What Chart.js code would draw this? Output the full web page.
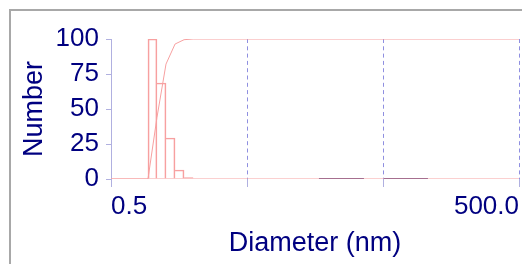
<!DOCTYPE html>
<html><head><meta charset="utf-8">
<script src="https://cdn.jsdelivr.net/npm/chart.js@4/dist/chart.umd.min.js"></script>
<style>
html,body{margin:0;padding:0;background:#fff;}
#wrap{position:relative;width:522px;height:264px;overflow:hidden;}
#frame{position:absolute;left:9px;top:9px;width:600px;height:400px;border-left:2px solid #a8a8a8;border-top:2px solid #a8a8a8;}
canvas{position:absolute;left:0;top:0;}
</style></head><body>
<div id="wrap"><div id="frame"></div><canvas id="c" width="522" height="264"></canvas></div>
<script>
// Histogram bins (diameter, nm) and their relative number (%)
const binCenters = [1.009, 1.176, 1.370, 1.596, 1.859];
const numberPct  = [100, 68.6, 29.3, 6.4, 1.0];
// Cumulative curve
const cumDiameters = [0.5, 0.935, 1.089, 1.269, 1.479, 1.723, 2.007, 500];
const cumPct       = [0, 0, 44, 82.1, 96.4, 99.5, 100, 100];
// Zero baseline
const baseDiameters = [0.5, 500];
const baseValues    = [0, 0];
// small traces on baseline
const traceDiameters = [16.9, 36.2, null, 50.8, 107];
const traceValues    = [0, 0, null, 0, 0];
// Axis ticks
const xTicks = [0.5, 5, 50, 500];
const xTickLabels = ['0.5', '', '', '500.0'];
const yTicks = [0, 25, 50, 75, 100];
const yTickLabels = ['0', '25', '50', '75', '100'];

const RED = '#f7a0a0';
const NAVY = '#000080';
const GRID = '#8f8fe0';
const AXIS = '#b0b0e0';
const FONT = "'Liberation Sans', Arial, sans-serif";

const pts = (xs, ys) => xs.map((x, i) => (x === null ? {x: NaN, y: null} : {x, y: ys[i]}));

new Chart(document.getElementById('c'), {
  data: {
    datasets: [
      {type: 'line', data: pts(traceDiameters, traceValues), borderColor: '#8a4f7a', borderWidth: 1.6,
       pointRadius: 0, spanGaps: false, order: 0},
      {type: 'line', data: pts(cumDiameters, cumPct), borderColor: RED, borderWidth: 1,
       pointRadius: 0, tension: 0, order: 1},
      {type: 'bar', data: binCenters.map((x, i) => ({x, y: numberPct[i]})),
       backgroundColor: 'rgba(0,0,0,0)', borderColor: RED,
       borderWidth: ctx => ({left: ctx.dataIndex === 0 ? 1 : 0, right: 1, top: 1, bottom: 0}),
       borderSkipped: false, barPercentage: 1, categoryPercentage: 1, order: 2},
      {type: 'line', data: pts(baseDiameters, baseValues), borderColor: RED, borderWidth: 1,
       pointRadius: 0, order: 3}
    ]
  },
  options: {
    responsive: false, animation: false, devicePixelRatio: 1,
    layout: {padding: {left: 18, top: 39, right: 3, bottom: 0}},
    plugins: {legend: {display: false}, tooltip: {enabled: false}},
    scales: {
      x: {
        type: 'logarithmic', position: 'bottom', min: 0.5, max: 500, offset: false,
        afterBuildTicks: s => { s.ticks = xTicks.map(v => ({value: v})); },
        afterFit: s => { s.height = 85; s.paddingLeft = 0; s.paddingRight = 0; },
        ticks: {autoSkip: false, maxRotation: 0, minRotation: 0, align: 'inner', padding: 4,
          callback: (v, i) => xTickLabels[i], color: NAVY, font: {family: FONT, size: 26}},
        grid: {offset: false, color: GRID, lineWidth: 1, drawOnChartArea: true, drawTicks: true, tickLength: 8,
          tickColor: AXIS, tickBorderDash: []},
        border: {display: false, dash: [4, 3.3]},
        title: {display: true, text: 'Diameter (nm)', color: NAVY, font: {family: FONT, size: 27},
          padding: {top: 0, bottom: 4.5}}
      },
      y: {
        type: 'linear', min: 0, max: 100,
        afterBuildTicks: s => { s.ticks = yTicks.map(v => ({value: v})); },
        afterFit: s => { s.width = 93; s.paddingTop = 0; s.paddingBottom = 0; },
        ticks: {padding: 7, color: NAVY, font: {family: FONT, size: 26},
          callback: (v, i) => yTickLabels[i]},
        grid: {drawOnChartArea: false, drawTicks: true, tickLength: 5, tickColor: AXIS},
        border: {display: true, color: AXIS, width: 1},
        title: {display: true, text: 'Number', color: NAVY, font: {family: FONT, size: 27},
          padding: {top: 0, bottom: 0}}
      }
    }
  }
});
</script>
</body></html>
